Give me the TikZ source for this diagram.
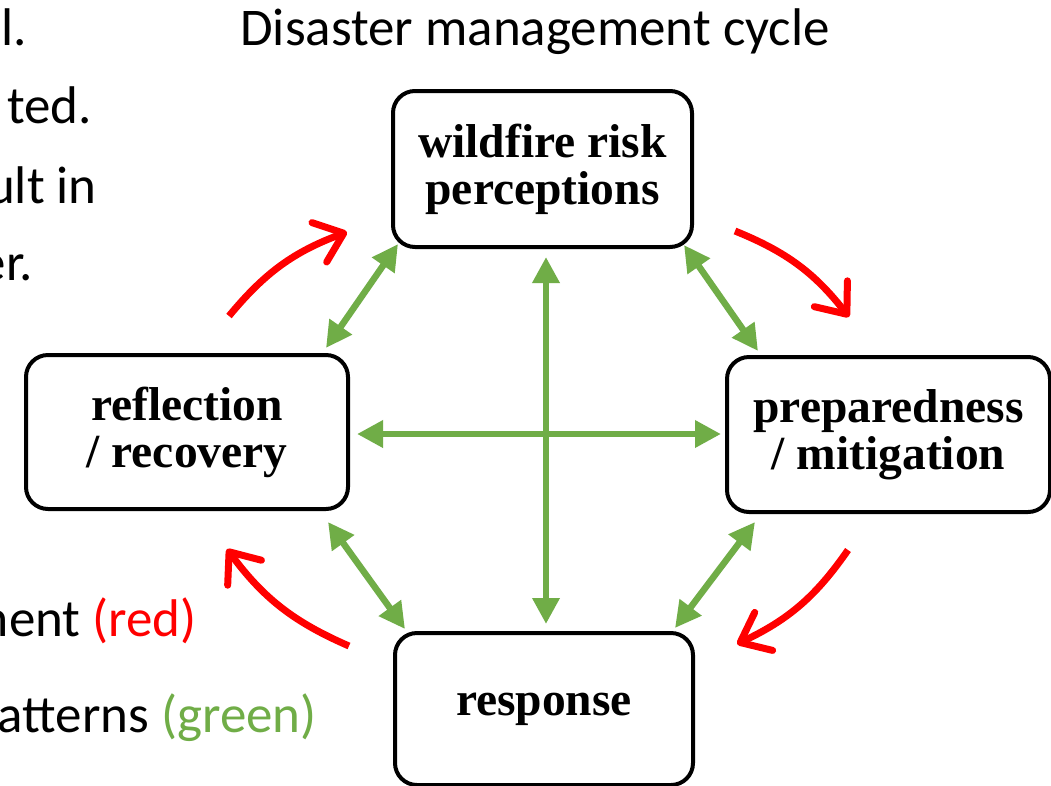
\documentclass[tikz,border=0pt]{standalone}
\usepackage{fontspec}
\setmainfont{Carlito}
\newfontfamily\boxfont{Liberation Serif}
\usetikzlibrary{arrows.meta,calc}
\definecolor{myred}{RGB}{255,0,0}
\definecolor{mygreen}{RGB}{112,173,71}
\begin{document}
\begin{tikzpicture}[x=1pt,y=-1pt,
  stagebox/.style={draw=black, line width=4pt, rounded corners=22pt, align=center,
    font=\boxfont\bfseries\fontsize{47.5}{47}\selectfont, inner sep=0pt},
  biarrow/.style={draw=mygreen, line width=6.5pt,
    {Triangle[length=26pt,width=26pt]}-{Triangle[length=26pt,width=26pt]}},
  cyclearrow/.style={draw=myred, line width=7pt,
    -{Straight Barb[length=26pt,width=42pt,line width=7pt,round]}, bend left=15},
  sidetext/.style={anchor=base east, font=\fontsize{53}{60}\selectfont, inner sep=0pt},
  titletext/.style={anchor=base, font=\fontsize{53}{60}\selectfont, inner sep=0pt}
]
\useasboundingbox (0,0) rectangle (1051,785);
\clip (0,0) rectangle (1051,785);
\fill[white] (0,0) rectangle (1051,785);

% title and cut-off side text
\node[titletext] (title) at (535,45) {Disaster management cycle};
\node[sidetext] (t1) at (27,45) {l.};
\node[sidetext] (t2) at (92,123) {ted.};
\node[sidetext] (t3) at (97,203) {ult in};
\node[sidetext] (t4) at (33,280) {er.};
\node[sidetext] (t5) at (197,636) {ment \textcolor{myred}{(red)}};
\node[sidetext] (t6) at (317,732) {atterns \textcolor{mygreen}{(green)}};

% stages
\node[stagebox, minimum width=299pt, minimum height=156pt] (risk) at (542.5,169) {wildfire risk\\perceptions};
\node[stagebox, minimum width=322pt, minimum height=154pt] (recov) at (187,432) {reflection\\/ recovery};
\node[stagebox, minimum width=323pt, minimum height=155pt] (prep) at (888.5,434.5) {preparedness\\/ mitigation};
\node[stagebox, minimum width=298pt, minimum height=152pt] (resp) at (544,709) {response};

% green two-way links
\draw[biarrow] ($(risk.south)+(3.5,8)$) -- ($(resp.north)+(2,-7)$);
\draw[biarrow] ($(recov.east)+(7,2)$) -- ($(prep.west)+(-4,-0.5)$);
\draw[biarrow] ($(risk.south west)+(7,-5)$) -- ($(recov.north east)+(-24,-5)$);
\draw[biarrow] ($(risk.south east)+(-10,-4)$) -- ($(prep.north west)+(33,-4)$);
\draw[biarrow] ($(prep.south west)+(30,8)$) -- ($(resp.north east)+(-20,-3)$);
\draw[biarrow] ($(recov.south east)+(-22,11)$) -- ($(resp.north west)+(12,-2)$);

% red cycle arrows
\coordinate (r1s) at (229,316); \coordinate (r1e) at (347,232);
\coordinate (r2s) at (735,231); \coordinate (r2e) at (849,317);
\coordinate (r3s) at (848,550); \coordinate (r3e) at (737,644);
\coordinate (r4s) at (349,646); \coordinate (r4e) at (227,549);
\draw[cyclearrow] (r1s) to (r1e);
\draw[cyclearrow] (r2s) to (r2e);
\draw[cyclearrow] (r3s) to (r3e);
\draw[cyclearrow] (r4s) to (r4e);
\end{tikzpicture}
\end{document}
